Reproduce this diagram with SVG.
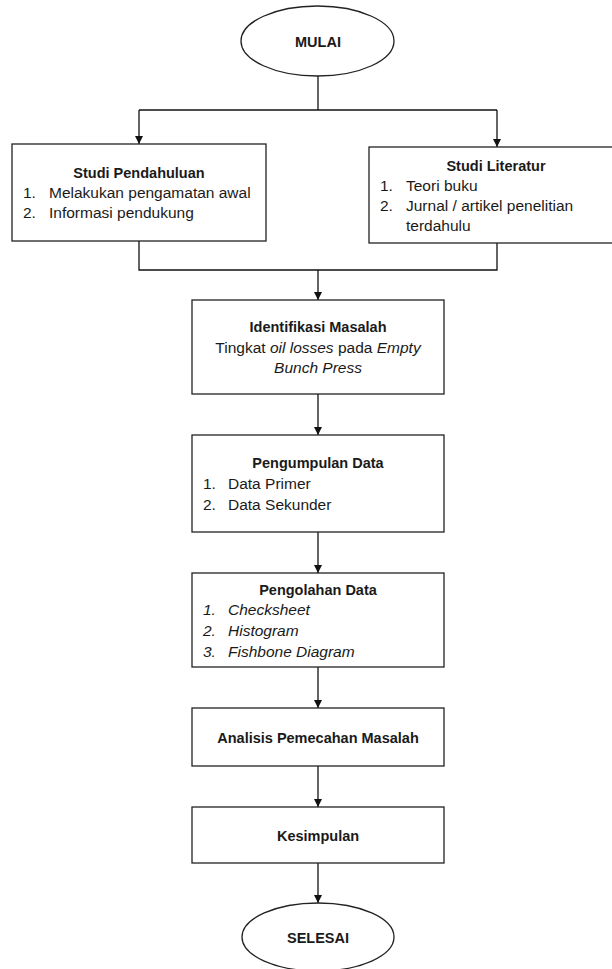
<svg xmlns="http://www.w3.org/2000/svg" width="612" height="969" viewBox="0 0 612 969">
<style>
.box{fill:#fff;stroke:#222;stroke-width:1.3}
.t{font-family:"Liberation Sans",Arial,sans-serif;font-size:15.5px;fill:#1a1a1a}
.b{font-weight:bold;font-size:14.5px}
.c{text-anchor:middle}
.i{font-style:italic}
.ln{fill:none;stroke:#111;stroke-width:1.3}
</style>
<defs>
<marker id="ar" viewBox="0 0 10 10" refX="10" refY="5" markerWidth="8" markerHeight="8" markerUnits="userSpaceOnUse" orient="auto">
<path d="M0,0 L10,5 L0,10 Z" fill="#111"/>
</marker>
</defs>
<rect width="612" height="969" fill="#fff"/>
<g id="connectors">
<path class="ln" d="M318,76 V110"/>
<path class="ln" d="M139,110 H497"/>
<path class="ln" d="M139,110 V144" marker-end="url(#ar)"/>
<path class="ln" d="M497,110 V147" marker-end="url(#ar)"/>
<path class="ln" d="M139,241 V270 H497 V243"/>
<path class="ln" d="M318,270 V300" marker-end="url(#ar)"/>
<path class="ln" d="M318,394 V435" marker-end="url(#ar)"/>
<path class="ln" d="M318,532 V573" marker-end="url(#ar)"/>
<path class="ln" d="M318,667 V708" marker-end="url(#ar)"/>
<path class="ln" d="M318,766 V807" marker-end="url(#ar)"/>
<path class="ln" d="M318,863 V903" marker-end="url(#ar)"/>
</g>
<g id="mulai">
<ellipse class="box" cx="317.5" cy="41" rx="76.5" ry="35"/>
<text class="t b c" x="318" y="47">MULAI</text>
</g>
<g id="studi-pendahuluan">
<rect class="box" x="12" y="144" width="254" height="97"/>
<text class="t b c" x="139" y="178">Studi Pendahuluan</text>
<text class="t" x="23" y="198">1.</text><text class="t" x="49" y="198">Melakukan pengamatan awal</text>
<text class="t" x="23" y="218">2.</text><text class="t" x="49" y="218">Informasi pendukung</text>
</g>
<g id="studi-literatur">
<rect class="box" x="369" y="147" width="254" height="96"/>
<text class="t b c" x="496" y="171">Studi Literatur</text>
<text class="t" x="380" y="191">1.</text><text class="t" x="406" y="191">Teori buku</text>
<text class="t" x="380" y="211">2.</text><text class="t" x="406" y="211">Jurnal / artikel penelitian</text>
<text class="t" x="406" y="231">terdahulu</text>
</g>
<g id="identifikasi">
<rect class="box" x="192" y="300" width="252" height="94"/>
<text class="t b c" x="318" y="332">Identifikasi Masalah</text>
<text class="t c" x="318" y="353">Tingkat <tspan class="i">oil losses</tspan> pada <tspan class="i">Empty</tspan></text>
<text class="t c i" x="318" y="373">Bunch Press</text>
</g>
<g id="pengumpulan">
<rect class="box" x="192" y="435" width="252" height="97"/>
<text class="t b c" x="318" y="468">Pengumpulan Data</text>
<text class="t" x="203" y="489">1.</text><text class="t" x="228" y="489">Data Primer</text>
<text class="t" x="203" y="510">2.</text><text class="t" x="228" y="510">Data Sekunder</text>
</g>
<g id="pengolahan">
<rect class="box" x="192" y="573" width="252" height="94"/>
<text class="t b c" x="318" y="595">Pengolahan Data</text>
<text class="t i" x="203" y="615">1.</text><text class="t i" x="228" y="615">Checksheet</text>
<text class="t i" x="203" y="636">2.</text><text class="t i" x="228" y="636">Histogram</text>
<text class="t i" x="203" y="657">3.</text><text class="t i" x="228" y="657">Fishbone Diagram</text>
</g>
<g id="analisis">
<rect class="box" x="192" y="708" width="252" height="58"/>
<text class="t b c" x="318" y="743">Analisis Pemecahan Masalah</text>
</g>
<g id="kesimpulan">
<rect class="box" x="192" y="807" width="252" height="56"/>
<text class="t b c" x="318" y="841">Kesimpulan</text>
</g>
<g id="selesai">
<ellipse class="box" cx="318" cy="937" rx="76" ry="34"/>
<text class="t b c" x="318" y="943">SELESAI</text>
</g>
</svg>
